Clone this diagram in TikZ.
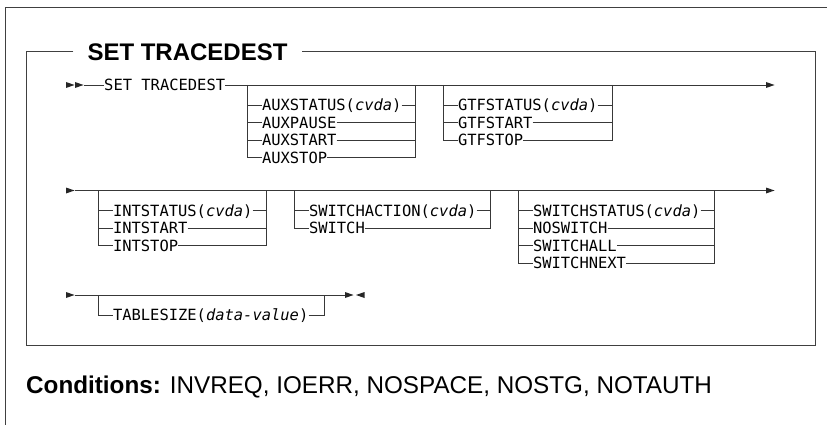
\documentclass[tikz,border=0pt]{standalone}
\usepackage{fontspec}
\setmainfont{Liberation Sans}
\setmonofont{DejaVu Sans Mono}
\usepackage{tikz}

\begin{document}
\begin{tikzpicture}[
  x=1pt,
  y=-1pt,
  rail/.style={draw=black!78, line width=0.9pt},
  frame/.style={draw=black!75, line width=1pt},
  opt/.style={font=\ttfamily\fontsize{15.45}{18}\selectfont, anchor=west,
    inner sep=0pt, text height=11.3pt, text depth=0pt},
  heading/.style={font=\bfseries\fontsize{24}{28}\selectfont, anchor=west,
    inner xsep=14pt, inner ysep=0pt, text height=17.2pt, text depth=0pt},
]
\path[use as bounding box] (0,0) rectangle (827,425);

% Layout.
\def\railgap{20}   % main line to first option
\def\optstep{17.5} % option to option
\def\stub{14.5}    % bar to option text

\newcommand{\railtip}[2]{%
  \fill[black!85] (#1,#2-3) -- (#1+8.5,#2) -- (#1,#2+3) -- cycle;
}
\newcommand{\railback}[2]{%
  \fill[black!85] (#1+8.5,#2-3) -- (#1,#2) -- (#1+8.5,#2+3) -- cycle;
}
% name, left bar, right bar, main line y, options
\newcommand{\optbox}[5]{%
  \coordinate (#1-top-l) at (#2,#4);
  \coordinate (#1-top-r) at (#3,#4);
  \foreach \txt [count=\i] in {#5} {
    \pgfmathsetmacro{\yy}{#4 + \railgap + (\i-1)*\optstep}
    \node[opt] (#1-\i) at (#2+\stub,\yy) {\txt};
    \coordinate (#1-\i-l) at (#2,\yy);
    \coordinate (#1-\i-r) at (#3,\yy);
    \draw[rail] (#1-\i-l) -- (#1-\i.west);
    \draw[rail] (#1-\i.east) -- (#1-\i-r);
    \xdef\lastopt{\i}
  }
  \draw[rail] (#1-top-l) |- (#1-\lastopt.west);
  \draw[rail] (#1-top-r) |- (#1-\lastopt.east);
}

% Outer frame, cut by the page.
\draw[frame] (5,425) |- (827,7.3);

% Titled box.
\node[heading] (title) at (73.3,51.5) {SET TRACEDEST};
\coordinate (box-sw) at (26.7,345);
\coordinate (box-ne) at (815,51.5);
\draw[frame] (title.west) -| (box-sw) -| (box-ne) -- (title.east);

% First line.
\railtip{66}{85}
\railtip{75}{85}
\coordinate (r1-in) at (83.5,85);
\coordinate (r1-out) at (766,85);
\node[opt] (cmd) at (104,85) {SET TRACEDEST};
\draw[rail] (r1-in) -- (cmd.west);
\draw[rail] (cmd.east) -- (r1-out);
\railtip{766}{85}
\optbox{aux}{247.3}{415.7}{85}{{AUXSTATUS(\textit{cvda})},AUXPAUSE,AUXSTART,AUXSTOP}
\optbox{gtf}{443.3}{612.3}{85}{{GTFSTATUS(\textit{cvda})},GTFSTART,GTFSTOP}

% Second line.
\railtip{66}{190.5}
\coordinate (r2-in) at (74.5,190.5);
\coordinate (r2-out) at (766,190.5);
\draw[rail] (r2-in) -- (r2-out);
\railtip{766}{190.5}
\optbox{int}{98.3}{266.7}{190.5}{{INTSTATUS(\textit{cvda})},INTSTART,INTSTOP}
\optbox{swa}{294.3}{490.7}{190.5}{{SWITCHACTION(\textit{cvda})},SWITCH}
\optbox{sws}{518.3}{714.3}{190.5}{{SWITCHSTATUS(\textit{cvda})},NOSWITCH,SWITCHALL,SWITCHNEXT}

% Last line.
\railtip{66}{295}
\coordinate (r4-in) at (74.5,295);
\coordinate (r4-out) at (345,295);
\draw[rail] (r4-in) -- (r4-out);
\railtip{345}{295}
\railback{356}{295}
\optbox{tbl}{98.3}{324}{295}{{TABLESIZE(\textit{data-value})}}

% Conditions.
\node[font=\fontsize{24.25}{28}\selectfont, anchor=base west, inner sep=0pt] (cond) at (26,393)
  {\textbf{Conditions:} INVREQ, IOERR, NOSPACE, NOSTG, NOTAUTH};

\end{tikzpicture}
\end{document}
